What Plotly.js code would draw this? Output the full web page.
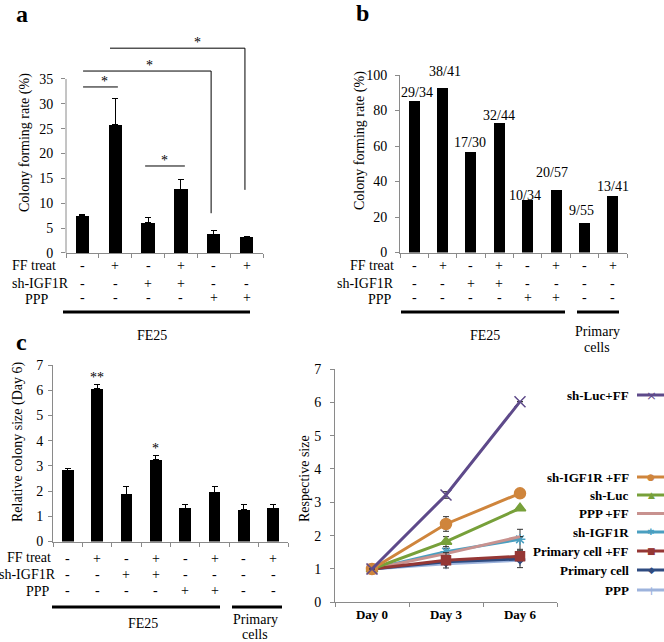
<!DOCTYPE html>
<html><head><meta charset="utf-8">
<script src="https://cdn.plot.ly/plotly-3.0.1.min.js"></script>
<style>html,body{margin:0;padding:0;background:#fff}#chart{width:664px;height:642px}</style>
</head><body><div id="chart"></div>
<script>
// ---------------- DATA ----------------
// Panel a : colony forming rate (%)
const aRate = [7.5, 25.8, 6.1, 12.8, 3.8, 3.3];
const aErr  = [0.3, 5.2, 1.1, 1.9, 0.8, 0.1];
const aFF   = ['-', '+', '-', '+', '-', '+'];
const aSh   = ['-', '-', '+', '+', '-', '-'];
const aPPP  = ['-', '-', '-', '-', '+', '+'];
const aTicks = [0, 5, 10, 15, 20, 25, 30, 35];

// Panel b : colony forming rate (%)
const bRate   = [85.3, 92.7, 56.7, 72.7, 29.4, 35.1, 16.4, 31.7];
const bLabels = ['29/34', '38/41', '17/30', '32/44', '10/34', '20/57', '9/55', '13/41'];
const bFF  = ['-', '+', '-', '+', '-', '+', '-', '+'];
const bSh  = ['-', '-', '+', '+', '-', '-', '-', '-'];
const bPPP = ['-', '-', '-', '-', '+', '+', '-', '-'];
const bTicks = [0, 20, 40, 60, 80, 100];

// Panel c : relative colony size (Day 6)
const cSize = [2.83, 6.05, 1.87, 3.24, 1.32, 1.95, 1.25, 1.32];
const cErr  = [0.05, 0.19, 0.33, 0.19, 0.16, 0.22, 0.23, 0.16];
const cSig  = ['', '**', '', '*', '', '', '', ''];
const cFF  = ['-', '+', '-', '+', '-', '+', '-', '+'];
const cSh  = ['-', '-', '+', '+', '-', '-', '-', '-'];
const cPPP = ['-', '-', '-', '-', '+', '+', '-', '-'];
const cTicks = [0, 1, 2, 3, 4, 5, 6, 7];

// Line chart : respective size
const days = ['Day 0', 'Day 3', 'Day 6'];
const lineTicks = [0, 1, 2, 3, 4, 5, 6, 7];
const shLucFF        = [1, 3.22, 6.02];  const shLucFFErr        = [0, 0.10, 0];
const shIGF1RFF      = [1, 2.35, 3.27];  const shIGF1RFFErr      = [0, 0.22, 0];
const shLuc          = [1, 1.82, 2.82];  const shLucErr          = [0, 0.15, 0];
const pppFF          = [1, 1.46, 1.97];  const pppFFErr          = [0, 0, 0];
const shIGF1R        = [1, 1.52, 1.89];  const shIGF1RErr        = [0, 0.10, 0.30];
const primaryFF      = [1, 1.26, 1.38];  const primaryFFErr      = [0, 0.23, 0];
const primary        = [1, 1.22, 1.30];  const primaryErr        = [0, 0, 0.26];
const ppp            = [1, 1.16, 1.26];  const pppErr            = [0, 0, 0];

// ---------------- LAYOUT HELPERS ----------------
const W = 664, H = 642;
const X = p => p / W, Y = p => 1 - p / H;
const serif = 'Liberation Serif';
const grayAxis = '#8a8a8a';
const txt = (s, b) => b ? {family: serif, size: s, color: '#000', weight: 'bold'} : {family: serif, size: s, color: '#000'};
const idx = arr => arr.map((_, i) => i);

function barX(d0, d1, n) {
  return {domain: [X(d0), X(d1)], range: [-0.5, n - 0.5],
    tickvals: Array.from({length: n + 1}, (_, i) => i - 0.5),
    ticks: 'outside', ticklen: 4, tickcolor: grayAxis, showticklabels: false,
    showline: true, linecolor: grayAxis, linewidth: 1, zeroline: false, showgrid: false, fixedrange: true};
}
function valY(p0, p1, range, ticks, showline, standoff) {
  return {domain: [Y(p0), Y(p1)], range: range, tickvals: ticks, ticktext: ticks.map(String),
    ticks: 'outside', ticklen: 4, tickcolor: grayAxis, tickfont: txt(14),
    ticklabelstandoff: standoff, showline: showline, linecolor: grayAxis, linewidth: 1,
    zeroline: false, showgrid: false, fixedrange: true};
}

const annotations = [];
const shapes = [];
function addText(text, x, y, size, opts) {
  annotations.push(Object.assign({text: text, xref: 'paper', yref: 'paper', x: X(x), y: Y(y),
    showarrow: false, font: txt(size), xanchor: 'center', yanchor: 'middle'}, opts || {}));
}
function addTable(xref, rows, ys) {
  rows.forEach((row, r) => row.forEach((s, i) => annotations.push({text: s, xref: xref, yref: 'paper',
    x: i, y: Y(ys[r]), showarrow: false, font: txt(14), xanchor: 'center', yanchor: 'middle'})));
}
function hline(x0, x1, y, w) {
  shapes.push({type: 'line', xref: 'paper', yref: 'paper', x0: X(x0), x1: X(x1), y0: Y(y), y1: Y(y),
    line: {color: '#000', width: w}});
}

// ---------------- TRACES ----------------
const traces = [];
const errUp = (arr, w) => ({type: 'data', symmetric: false, array: arr, arrayminus: arr.map(() => 0),
  color: '#000', thickness: 1, width: w, visible: true});

const aScale = 174 / 35; // px per unit (layout)
traces.push({type: 'bar', x: idx(aRate), y: aRate, xaxis: 'x', yaxis: 'y', width: 0.41,
  marker: {color: '#000'}, error_y: errUp(aErr, 3), hoverinfo: 'skip'});
traces.push({type: 'bar', x: idx(bRate), y: bRate, xaxis: 'x2', yaxis: 'y2', width: 0.39,
  marker: {color: '#000'}, hoverinfo: 'skip'});
traces.push({type: 'bar', x: idx(cSize), y: cSize, xaxis: 'x3', yaxis: 'y3', width: 0.4,
  marker: {color: '#000'}, error_y: errUp(cErr, 3), hoverinfo: 'skip'});

const lineSeries = [
  {name: 'PPP',              y: ppp,       e: pppErr,       color: '#9db3dc', sym: 'cross-thin', size: 8, glyph: '+'},
  {name: 'Primary cell',     y: primary,   e: primaryErr,   color: '#2e4b80', sym: 'diamond',    size: 7, glyph: '◆'},
  {name: 'sh-IGF1R',         y: shIGF1R,   e: shIGF1RErr,   color: '#4a9fc0', sym: 'asterisk-open', size: 9, glyph: '✱'},
  {name: 'PPP +FF',          y: pppFF,     e: pppFFErr,     color: '#c8928f', sym: 'circle',     size: 0, glyph: ''},
  {name: 'Primary cell +FF', y: primaryFF, e: primaryFFErr, color: '#953735', sym: 'square',     size: 9, glyph: '■'},
  {name: 'sh-Luc',           y: shLuc,     e: shLucErr,     color: '#77a03a', sym: 'triangle-up', size: 10, glyph: '▲'},
  {name: 'sh-IGF1R +FF',     y: shIGF1RFF, e: shIGF1RFFErr, color: '#cf853c', sym: 'circle',     size: 11, glyph: '●'},
  {name: 'sh-Luc+FF',        y: shLucFF,   e: shLucFFErr,   color: '#5e4a8a', sym: 'x-thin',     size: 11, glyph: '×'}
];
lineSeries.forEach(s => traces.push({type: 'scatter', mode: s.size ? 'lines+markers' : 'lines',
  x: days, y: s.y, xaxis: 'x4', yaxis: 'y4', name: s.name, showlegend: false, hoverinfo: 'skip',
  line: {color: s.color, width: 3},
  marker: {symbol: s.sym, size: s.size, color: s.color, line: {color: s.color, width: 1.5}},
  error_y: {type: 'data', array: s.e, color: '#333', thickness: 1, width: 3, visible: true}}));

// ---------------- PANEL DECORATIONS ----------------
addText('a', 22, 14, 24, {font: txt(24, true)});
addText('b', 362, 13, 24, {font: txt(24, true)});
addText('c', 21, 342, 24, {font: txt(24, true)});

addText('Colony forming rate (%)', 25, 143, 14, {textangle: -90});
addText('Colony forming rate (%)', 360, 141, 14, {textangle: -90});
addText('Relative colony size (Day 6)', 18, 442, 14, {textangle: -90});
addText('Respective size', 304, 479, 14, {textangle: -90});

shapes.push({type: 'line', xref: 'x domain', yref: 'y', x0: 0, x1: 0, y0: 0, y1: 35,
  line: {color: grayAxis, width: 1}});
const brk = (x0, x1, y, yEnd) => {
  shapes.push({type: 'line', xref: 'x', yref: 'y', x0: x0, x1: x1, y0: y, y1: y, line: {color: '#000', width: 1}});
  if (yEnd !== undefined)
    shapes.push({type: 'line', xref: 'x', yref: 'y', x0: x1, x1: x1, y0: y, y1: yEnd, line: {color: '#000', width: 1}});
};
brk(0.02, 1.08, 33.4);
brk(0.02, 3.92, 36.6, 8.0);
brk(0.84, 4.95, 41.2, 12.7);
brk(1.91, 3.12, 17.5);
[[0.66, 33.4], [2.03, 36.6], [3.52, 41.2], [2.49, 17.5]].forEach(p =>
  annotations.push({text: '*', xref: 'x', yref: 'y', x: p[0], y: p[1], showarrow: false,
    font: txt(14), xanchor: 'center', yanchor: 'bottom', yshift: -4}));

addTable('x', [aFF, aSh, aPPP], [266, 283, 298]);
addText('FF treat', 10, 265, 14, {xanchor: 'left'});
addText('sh-IGF1R', 10, 283, 14, {xanchor: 'left'});
addText('PPP', 37, 299, 14);
hline(63, 250, 312, 3);
addText('FE25', 152, 335, 14);

addTable('x2', [bFF, bSh, bPPP], [266, 283, 298]);
addText('FF treat', 396, 265, 14, {xanchor: 'right'});
addText('sh-IGF1R', 396, 283, 14, {xanchor: 'right'});
addText('PPP', 380, 299, 14);
hline(401, 565, 312, 3);
hline(577, 619, 312, 3);
addText('FE25', 485, 335, 14);
addText('Primary', 597, 332, 14);
addText('cells', 597, 348, 14);

addTable('x3', [cFF, cSh, cPPP], [558, 574, 590]);
addText('FF treat', 29, 557, 14);
addText('sh-IGF1R', 28, 574, 14);
addText('PPP', 38, 591, 14);
hline(52, 220, 607, 3);
hline(232, 282, 607, 3);
addText('FE25', 143, 623, 14);
addText('Primary', 255, 619, 14);
addText('cells', 255, 634, 14);

const bLabShift = [9, 16, 9, 8.4, 4.6, 18, 12.8, 10.2];
const bLabX = [3, 2.4, -1, 0, -3, -4, -3, 0];
bLabels.forEach((s, i) => annotations.push({text: s, xref: 'x2', yref: 'y2', x: i, y: bRate[i],
  showarrow: false, font: txt(14), xanchor: 'center', yanchor: 'middle', yshift: bLabShift[i], xshift: bLabX[i]}));

cSig.forEach((s, i) => { if (s) annotations.push({text: s, xref: 'x3', yref: 'y3', x: i, y: cSize[i] + cErr[i],
  showarrow: false, font: txt(14), xanchor: 'center', yanchor: 'bottom', yshift: -3}); });

const legendOrder = ['sh-Luc+FF', 'sh-IGF1R +FF', 'sh-Luc', 'PPP +FF', 'sh-IGF1R', 'Primary cell +FF', 'Primary cell', 'PPP'];
const legendY = [395, 477, 495, 513.5, 532, 551, 570, 590];
legendOrder.forEach((n, k) => {
  const s = lineSeries.find(q => q.name === n);
  addText(n, 631, legendY[k], 13, {xanchor: 'right', font: txt(13, true)});
  shapes.push({type: 'line', xref: 'paper', yref: 'paper', x0: X(637), x1: X(666), y0: Y(legendY[k]), y1: Y(legendY[k]),
    line: {color: s.color, width: 3}});
  const big = s.glyph === '×' || s.glyph === '+';
  if (s.glyph) addText(s.glyph, 651, legendY[k], big ? 13 : 9,
    {font: {family: 'DejaVu Sans', size: big ? 13 : 9, color: s.color}});
});

// ---------------- LAYOUT ----------------
const aTop = 253 - 45 * aScale;
const layout = {
  width: W, height: H, margin: {l: 0, r: 0, t: 0, b: 0}, paper_bgcolor: '#fff', plot_bgcolor: 'rgba(0,0,0,0)',
  showlegend: false, bargap: 0, font: txt(14),
  xaxis: Object.assign(barX(66, 263, aRate.length), {anchor: 'y'}),
  yaxis: Object.assign(valY(253, aTop, [0, 45], aTicks, false, 5), {anchor: 'x'}),
  xaxis2: Object.assign(barX(400, 627, bRate.length), {anchor: 'y2'}),
  yaxis2: Object.assign(valY(252.5, 75, [0, 100], bTicks, true, 5), {anchor: 'x2'}),
  xaxis3: Object.assign(barX(53, 288, cSize.length), {anchor: 'y3'}),
  yaxis3: Object.assign(valY(541.5, 365, [0, 7], cTicks, true, 2), {anchor: 'x3'}),
  xaxis4: {domain: [X(335), X(557)], anchor: 'y4', type: 'category', range: [-0.5, 2.5],
    tickson: 'boundaries', ticks: 'outside', ticklen: 4, tickcolor: grayAxis, tickfont: txt(13, true),
    showline: true, linecolor: grayAxis, linewidth: 1, showgrid: false, zeroline: false, fixedrange: true},
  yaxis4: Object.assign(valY(602.3, 369, [0, 7], lineTicks, true, 6), {anchor: 'x4'}),
  annotations: annotations, shapes: shapes
};
Plotly.newPlot('chart', traces, layout, {staticPlot: true, displayModeBar: false});
</script>
</body></html>
